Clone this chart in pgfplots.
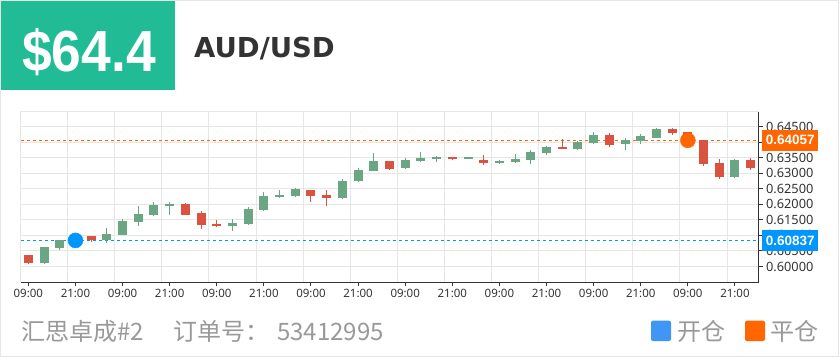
\documentclass[border=0pt]{standalone}
\usepackage{fontspec}
\usepackage{pgfplots}
\usepackage{pgfplotstable}
\pgfplotsset{compat=1.18}
\setmainfont{Noto Sans}
\newfontfamily\cjk{Noto Sans CJK SC}
\newfontfamily\djv{DejaVu Sans}
\newfontfamily\lib{Liberation Sans}
\definecolor{hdrgreen}{HTML}{21BC95}
\definecolor{bordergray}{HTML}{E6E6E6}
\definecolor{gridgray}{HTML}{E6E6E6}
\definecolor{txtdark}{HTML}{333333}
\definecolor{txtgray}{HTML}{999999}
\definecolor{cgreen}{HTML}{6AA584}
\definecolor{cred}{HTML}{D95340}
\definecolor{mblue}{HTML}{0096FF}
\definecolor{morange}{HTML}{FF6600}
\definecolor{lblue}{HTML}{4096F5}

\pgfplotstableread{
x o h l c
1 0.60109 0.60631 0.60096 0.60631
2 0.60599 0.60846 0.60545 0.60846
3 0.60846 0.60990 0.60800 0.60950
5 0.60846 0.61231 0.60750 0.61048
6 0.61016 0.61538 0.61000 0.61474
7 0.61442 0.61946 0.61304 0.61699
8 0.61667 0.62074 0.61635 0.61968
9 0.61936 0.62074 0.61647 0.62019
13 0.61314 0.61529 0.61154 0.61391
14 0.61359 0.61913 0.61337 0.61849
15 0.61808 0.62404 0.61790 0.62276
16 0.62244 0.62458 0.62212 0.62308
17 0.62266 0.62513 0.62244 0.62481
20 0.62212 0.62801 0.62180 0.62756
21 0.62737 0.63163 0.62705 0.63099
22 0.63067 0.63635 0.63060 0.63378
24 0.63154 0.63474 0.63122 0.63430
25 0.63397 0.63676 0.63346 0.63506
26 0.63462 0.63548 0.63365 0.63516
28 0.63462 0.63537 0.63442 0.63516
30 0.63333 0.63430 0.63301 0.63388
31 0.63356 0.63612 0.63333 0.63452
32 0.63420 0.63740 0.63301 0.63667
33 0.63644 0.63878 0.63580 0.63837
35 0.63782 0.64051 0.63731 0.63997
36 0.63965 0.64317 0.63942 0.64231
38 0.63933 0.64125 0.63750 0.64061
39 0.64051 0.64276 0.63942 0.64189
40 0.64147 0.64455 0.64125 0.64423
45 0.62875 0.63452 0.62853 0.63420
}\greendata

\pgfplotstableread{
x o h l c
0 0.60365 0.60375 0.60064 0.60109
4 0.60974 0.60984 0.60792 0.60856
10 0.62010 0.62042 0.61660 0.61667
11 0.61712 0.61785 0.61218 0.61327
12 0.61369 0.61497 0.61263 0.61304
18 0.62468 0.62470 0.62083 0.62276
19 0.62298 0.62458 0.61955 0.62212
23 0.63378 0.63397 0.63099 0.63141
27 0.63516 0.63520 0.63410 0.63452
29 0.63430 0.63580 0.63260 0.63333
34 0.63837 0.64093 0.63780 0.63782
37 0.64231 0.64285 0.63846 0.63923
41 0.64423 0.64444 0.64231 0.64295
42 0.64320 0.64340 0.64000 0.64057
43 0.64061 0.64070 0.63237 0.63301
44 0.63324 0.63452 0.62820 0.62885
46 0.63420 0.63494 0.63099 0.63154
}\reddata

\pgfplotsset{
  candle/.style 2 args={only marks, mark=*, mark size=0pt, mark options={draw=none, fill=none},
    error bars/.cd, y dir=both, y explicit, error mark=none,
    error bar style={line width=#1, draw=#2, solid}},
}

\begin{document}
\begin{tikzpicture}[x=1pt,y=1pt]
\path[use as bounding box] (0,0) rectangle (840,357);
\fill[white] (0,0) rectangle (840,357);
\draw[bordergray, line width=1pt] (0.5,0.5) rectangle (838,356.5);
\fill[hdrgreen] (1,267) rectangle (175,356);
\node[anchor=base west, inner sep=0, text=white, font=\lib\fontsize{58}{60}\selectfont\bfseries, xscale=0.92] at (22,285.3) {\$64.4};
\node[anchor=base west, inner sep=0, text=txtdark, font=\djv\fontsize{27.5}{30}\selectfont\bfseries] at (194,299.7) {AUD/USD};

\begin{axis}[
  at={(20.5pt,75pt)}, anchor=south west,
  width=738pt, height=171pt, scale only axis,
  xmin=-0.5, xmax=46.5, ymin=0.595, ymax=0.650,
  axis x line*=bottom, axis y line*=right,
  axis line style={line width=1pt, draw=txtdark},
  xtick={0,3,...,45},
  xticklabels={09:00,21:00,09:00,21:00,09:00,21:00,09:00,21:00,09:00,21:00,09:00,21:00,09:00,21:00,09:00,21:00},
  minor xtick={-0.5,2.5,...,44.5},
  xminorgrids=true, xmajorgrids=false,
  ytick={0.600,0.605,0.610,0.615,0.620,0.625,0.630,0.635,0.640,0.645},
  yticklabels={0.60000,0.60500,0.61000,0.61500,0.62000,0.62500,0.63000,0.63500,,0.64500},
  extra y ticks={0.650},
  extra y tick labels={},
  extra y tick style={major tick length=0pt, grid=major},
  ymajorgrids=true,
  scaled y ticks=false,
  grid style={draw=gridgray, line width=1pt},
  minor grid style={draw=gridgray, line width=1pt},
  minor tick length=0pt, major tick length=4pt, tick align=outside,
  tick style={draw=txtdark, line width=1pt},
  y tick label style={font=\fontsize{12.8}{14}\selectfont, text=txtdark},
  x tick label style={font=\fontsize{11.5}{14}\selectfont, text=txtdark},
  clip=false,
]
\addplot[draw=morange, line width=1pt, dash pattern=on 3pt off 3pt] coordinates {(-0.5,0.64057) (46.5,0.64057)};
\addplot[draw=mblue, line width=1pt, dash pattern=on 3pt off 3pt] coordinates {(-0.5,0.60837) (46.5,0.60837)};
% wicks
\addplot[candle={1pt}{cgreen}]
  table[x=x, y expr={(\thisrow{h}+\thisrow{l})/2}, y error expr={(\thisrow{h}-\thisrow{l})/2}] {\greendata};
\addplot[candle={1pt}{cred}]
  table[x=x, y expr={(\thisrow{h}+\thisrow{l})/2}, y error expr={(\thisrow{h}-\thisrow{l})/2}] {\reddata};
% bodies
\addplot[candle={9pt}{cgreen}]
  table[x=x, y expr={(\thisrow{o}+\thisrow{c})/2}, y error expr={abs(\thisrow{c}-\thisrow{o})/2}] {\greendata};
\addplot[candle={9pt}{cred}]
  table[x=x, y expr={(\thisrow{o}+\thisrow{c})/2}, y error expr={abs(\thisrow{c}-\thisrow{o})/2}] {\reddata};
% trade markers
\addplot[only marks, mark=*, mark size=7.5pt, mark options={fill=mblue, draw=mblue}] coordinates {(3,0.60837)};
\addplot[only marks, mark=*, mark size=7.5pt, mark options={fill=morange, draw=morange}] coordinates {(42,0.64057)};
\coordinate (oL) at (axis cs:46.5,0.64057);
\coordinate (bL) at (axis cs:46.5,0.60837);
\end{axis}

\node[anchor=west, fill=morange, text=white, inner sep=0, minimum width=56pt, minimum height=21.5pt, font=\lib\fontsize{13.5}{15}\selectfont\bfseries] at ([xshift=3.5pt]oL) {0.64057};
\node[anchor=west, fill=mblue, text=white, inner sep=0, minimum width=56pt, minimum height=21.5pt, font=\lib\fontsize{13.5}{15}\selectfont\bfseries] at ([xshift=3.5pt]bL) {0.60837};

% footer
\node[anchor=base west, inner sep=0, text=txtgray, font=\cjk\fontsize{24}{26}\selectfont] at (21,16.5) {汇思卓成\#2};
\node[anchor=base west, inner sep=0, text=txtgray, font=\cjk\fontsize{24}{26}\selectfont] at (173,16.5) {订单号：};
\node[anchor=base west, inner sep=0, text=txtgray, font=\cjk\fontsize{24}{26}\selectfont] at (277,16.5) {53412995};
\fill[lblue, rounded corners=2pt] (651,16) rectangle (671,36.3);
\node[anchor=base west, inner sep=0, text=txtgray, font=\cjk\fontsize{24}{26}\selectfont] at (677,16.5) {开仓};
\fill[morange, rounded corners=2pt] (745,16) rectangle (765,36.3);
\node[anchor=base west, inner sep=0, text=txtgray, font=\cjk\fontsize{24}{26}\selectfont] at (770,16.5) {平仓};
\end{tikzpicture}
\end{document}
